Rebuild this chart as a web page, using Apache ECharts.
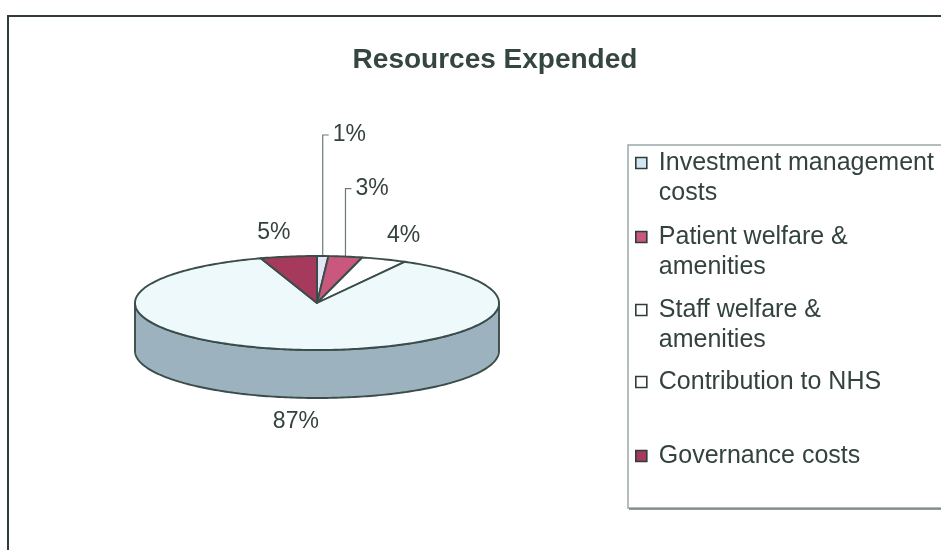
<!DOCTYPE html>
<html>
<head>
<meta charset="utf-8">
<script src="https://cdn.jsdelivr.net/npm/echarts@6/dist/echarts.min.js"></script>
<style>
html,body{margin:0;padding:0;background:#fff;}
#chart{width:941px;height:550px;}
</style>
</head>
<body>
<div id="chart"></div>
<script>
// ---- data ----
const categories = ['Investment management costs', 'Patient welfare & amenities', 'Staff welfare & amenities', 'Contribution to NHS', 'Governance costs'];
const legendLines = [['Investment management', 'costs'], ['Patient welfare &', 'amenities'], ['Staff welfare &', 'amenities'], ['Contribution to NHS'], ['Governance costs']];
const values = [1, 3, 4, 87, 5];

// ---- style ----
const topColors = ['#e4e6f7', '#c8587e', '#ffffff', '#eef9fc', '#a63a5c'];
const sideColors = ['#b8b9cc', '#9a3e5c', '#cfd4d8', '#9cb3bf', '#7e2a45'];
const legendColors = ['#d3e7f2', '#c8587e', '#ffffff', '#ffffff', '#a63a5c'];
const leaderLen = [121, 68, 0, 0, 0];
const edgeColor = '#3a4d49';
const textColor = '#33423f';
const font = 'Arial, "Liberation Sans", sans-serif';
const CX = 317, CY = 303, RX = 182, RY = 47, DEPTH = 48;
const legendRowCenters = [163, 237, 310, 382, 456];

const total = values.reduce((a, b) => a + b, 0);
const cum = [];
values.reduce((acc, v, i) => { cum[i] = acc; return acc + v; }, 0);

function pt(deg, dy) {
  const r = deg * Math.PI / 180;
  return [CX + RX * Math.sin(r), CY - RY * Math.cos(r) + (dy || 0)];
}
function arc(a, b, dy) {
  const pts = [];
  const n = Math.max(2, Math.ceil(Math.abs(b - a) / 1));
  for (let k = 0; k <= n; k++) pts.push(pt(a + (b - a) * k / n, dy));
  return pts;
}

function makeRender(i) {
  return function (params, api) {
    const v = api.value(0);
    const start = cum[i] / total * 360;
    const end = (cum[i] + v) / total * 360;
    const children = [];
    const a = Math.max(start, 90), b = Math.min(end, 270);
    if (b > a) {
      const pts = arc(a, b, 0).concat(arc(b, a, DEPTH));
      children.push({type: 'polygon', z2: 1, shape: {points: pts},
        style: {fill: sideColors[i], stroke: edgeColor, lineWidth: 1.9, lineJoin: 'round'}});
    }
    const topPts = [[CX, CY]].concat(arc(start, end, 0));
    children.push({type: 'polygon', z2: 5, shape: {points: topPts},
      style: {fill: topColors[i], stroke: edgeColor, lineWidth: 1.9, lineJoin: 'round'}});
    // label
    const mid = (start + end) / 2;
    const txt = Math.round(v / total * 100) + '%';
    const s = Math.sin(mid * Math.PI / 180), c = Math.cos(mid * Math.PI / 180);
    if (leaderLen[i] > 0) {
      const e = pt(mid, 0);
      const ty = e[1] - leaderLen[i];
      children.push({type: 'polyline', z2: 3, shape: {points: [[e[0], e[1]], [e[0], ty], [e[0] + 6, ty]]},
        style: {stroke: '#6b7a77', lineWidth: 1.2, fill: null}});
      children.push({type: 'text', z2: 20, style: {text: txt, x: e[0] + 10, y: ty, align: 'left', verticalAlign: 'middle',
        font: '23px ' + font, fill: textColor}});
    } else {
      const front = c < 0;
      const e = pt(mid, front ? DEPTH : 0);
      const y = e[1] + (front ? 24 : -24);
      const align = Math.abs(s) < 0.1 ? 'center' : (s > 0 ? 'left' : 'right');
      const x = e[0] + (align === 'left' ? 3 : align === 'right' ? 2 : -4);
      children.push({type: 'text', z2: 20, style: {text: txt, x: x, y: y, align: align, verticalAlign: 'middle',
        font: '23px ' + font, fill: textColor}});
    }
    return {type: 'group', children: children};
  };
}

const series = categories.map((name, i) => ({
  type: 'custom',
  name: name,
  coordinateSystem: 'none',
  renderItem: makeRender(i),
  itemStyle: {color: legendColors[i]},
  data: [[values[i]]],
  silent: true,
  animation: false
}));

const legends = categories.map((name, i) => {
  const multi = legendLines[i].length > 1;
  return {
    data: [name],
    left: 635,
    top: legendRowCenters[i] - (multi ? 45 : 15),
    orient: 'vertical',
    padding: 0,
    icon: 'rect',
    itemWidth: 11,
    itemHeight: 11,
    selectedMode: false,
    itemStyle: {borderColor: '#2f3d3a', borderWidth: 1.6},
    formatter: () => multi
      ? '{sp| }\n' + legendLines[i].map(l => '{t|' + l + '}').join('\n')
      : '{t|' + legendLines[i][0] + '}',
    textStyle: {fontSize: 25, lineHeight: 30, color: textColor, fontFamily: font,
      padding: [0, 0, 0, 7],
      rich: {
        sp: {fontSize: 25, lineHeight: 30, fontFamily: font},
        t: {fontSize: 25, lineHeight: 30, color: textColor, fontFamily: font}
      }}
  };
});

const chart = echarts.init(document.getElementById('chart'));
chart.setOption({
  backgroundColor: '#ffffff',
  animation: false,
  title: {
    text: 'Resources Expended',
    left: 490, top: 41, textAlign: 'center',
    textStyle: {fontSize: 28, fontWeight: 'bold', color: '#34463f', fontFamily: font}
  },
  legend: legends,
  graphic: [
    {type: 'polyline', shape: {points: [[8, 550], [8, 16], [941, 16]]}, style: {stroke: '#2e3f3b', lineWidth: 2, fill: null}, silent: true},
    {type: 'rect', shape: {x: 628, y: 145, width: 330, height: 363}, style: {fill: null, stroke: '#9aa8a6', lineWidth: 1.5}, silent: true},
    {type: 'line', shape: {x1: 629, y1: 509, x2: 941, y2: 509}, style: {stroke: '#6f7e7b', lineWidth: 1.5}, silent: true}
  ],
  series: series
});
</script>
</body>
</html>
